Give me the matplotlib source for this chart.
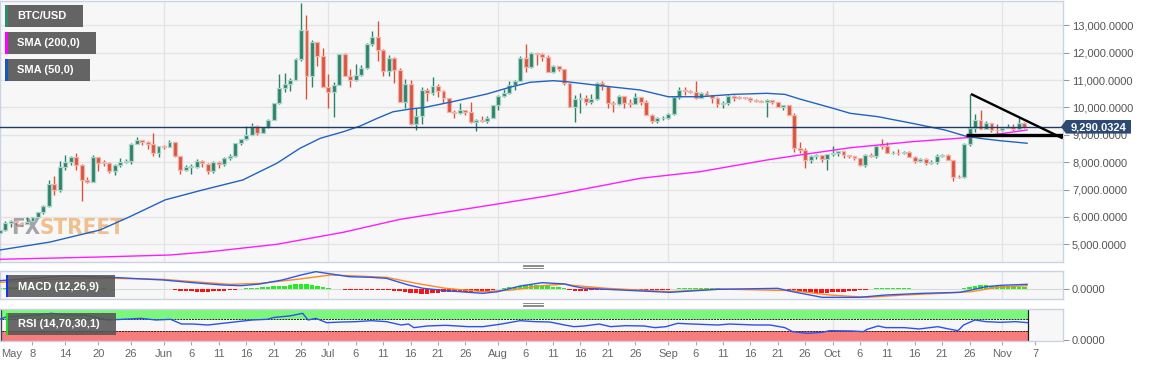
import matplotlib
matplotlib.use("Agg")
import matplotlib.pyplot as plt
from matplotlib.patches import Rectangle, Polygon
from matplotlib.lines import Line2D
from matplotlib import font_manager
from matplotlib.font_manager import FontProperties
import numpy as np
import datetime as dt

plt.rcParams['font.family'] = ['Liberation Sans', 'DejaVu Sans']

# ---------------- data ----------------
start_date = "2019-05-02"   # first daily candle (index 0)

opens = [5402,5505,5769,5831,5792,5746,5849,5982,6165,6380,
         7204,6971,7808,7989,8195,7887,7342,7268,8197,7978,
         7956,7677,7882,7992,8055,8674,8803,8719,8662,8320,
         8574,8565,8742,8211,7704,7820,7827,8037,7950,7692,
         8004,7925,8146,8231,8690,8841,8989,9335,9079,9273,
         9525,10176,10697,10854,11008,11770,12830,11160,12380,11880,
         10740,10580,10818,11960,11160,11015,11200,11440,12306,12555,
         12093,11340,11800,11370,10210,10850,9393,9700,10640,10530,
         10767,10600,10333,9843,9800,9900,9850,9480,9553,9519,
         9607,10088,10412,10518,10818,10970,11794,11494,11977,11950,
         11850,11283,11527,11392,10880,10025,10300,10345,10210,10300,
         10900,10780,10150,10131,10400,10160,10139,10371,10186,9723,
         9503,9598,9631,9770,10380,10620,10594,10576,10340,10530,
         10441,10335,10130,10178,10415,10361,10358,10348,10277,10241,
         10198,10266,10182,10020,10070,9711,8528,8460,8078,8230,
         8246,8104,8290,8343,8393,8260,8206,8152,7880,8245,
         8229,8596,8586,8322,8337,8321,8375,8205,8048,8104,
         7973,7989,8222,8244,8078,7468,7440,8663,9236,9540,
         9220,9430,9175,9160,9255,9300,9210,9420]
closes = [5505,5768,5831,5796,5747,5830,5982,6175,6379,7205,
          6972,7815,7994,8205,7885,7344,7271,8198,7978,7963,
          7680,7882,7987,8053,8673,8806,8720,8659,8319,8575,
          8564,8743,8209,7708,7824,7822,8044,7954,7688,8000,
          7928,8146,8231,8694,8838,8994,9320,9082,9274,9527,
          10145,10702,10855,11011,11770,12830,11160,12380,11880,10740,
          10580,10818,11950,11160,11015,11200,11440,12306,12555,12093,
          11340,11800,11370,10210,10850,9393,9700,10640,10530,10767,
          10600,10333,9843,9800,9900,9850,9480,9553,9519,9607,
          10088,10412,10518,10818,10970,11794,11494,11977,11950,11850,
          11283,11527,11392,10880,10025,10300,10345,10210,10300,10900,
          10780,10150,10131,10400,10160,10139,10371,10186,9723,9503,
          9598,9631,9770,10380,10620,10594,10576,10340,10530,10441,
          10335,10130,10178,10415,10361,10358,10348,10277,10241,10198,
          10266,10182,10020,10070,9711,8528,8460,8078,8230,8246,
          8104,8290,8343,8393,8260,8206,8152,7880,8245,8229,
          8596,8586,8322,8337,8321,8375,8205,8048,8104,7973,
          7989,8222,8244,8078,7468,7440,8663,9236,9540,9220,
          9430,9175,9160,9255,9300,9210,9420,9290]
highs = [5522,5866,5887,5834,5803,5989,5990,6183,6435,7333,
         7504,8047,8268,8217,8321,7929,7447,8262,8201,8062,
         7998,7944,8141,8118,8688,8907,8807,8756,9074,8587,
         8626,8809,8744,8211,7902,7937,8126,8077,7976,8032,
         8026,8197,8311,8711,8859,9336,9416,9348,9300,9594,
         10145,11220,11246,11066,11791,13830,13370,12460,12400,12180,
         11206,10912,11968,12006,11396,11600,11542,12346,12779,13170,
         12145,11905,11842,11451,11053,10997,9963,10737,10717,11100,
         10842,10652,10347,9909,10165,9917,10200,9576,9682,9702,
         10090,10447,10658,10947,11009,11895,12330,12037,11979,11970,
         11916,11540,11528,11420,10890,10437,10524,10453,10487,10916,
         10947,10799,10233,10442,10418,10305,10512,10381,10279,9757,
         9656,9673,9797,10397,10737,10763,10627,10950,10559,10596,
         10450,10394,10216,10442,10441,10422,10387,10387,10297,10276,
         10296,10286,10188,10074,10074,9804,8745,8516,8272,8286,
         8262,8314,8590,8393,8414,8260,8216,8161,8309,8333,
         8628,8835,8722,8415,8471,8390,8411,8217,8135,8138,
         8083,8282,8297,8297,8092,7533,8692,10490,9750,9905,
         9516,9440,9383,9276,9377,9380,9600,9457]
lows = [5394,5490,5645,5708,5654,5741,5795,5982,6111,6376,
        6815,6898,7696,7899,7730,6580,7252,7268,7679,7843,
        7616,7533,7824,7965,7925,8669,8635,8483,8221,8173,
        8482,8561,8204,7564,7669,7571,7788,7838,7583,7587,
        7773,7863,8087,8183,8618,8815,8989,9005,9070,9232,
        9525,10107,10556,10610,11000,11700,10300,10745,11510,10740,
        9967,9660,10818,11160,10745,10982,11149,11393,12233,11711,
        11159,11139,10908,10200,9992,9350,9163,9377,10230,10451,
        10390,10155,9840,9614,9774,9718,9412,9150,9473,9437,
        9598,9922,10371,10504,10620,10961,11291,11434,11556,11710,
        11283,11248,11321,10830,10025,9460,9795,10087,10119,10280,
        10619,9963,9831,10078,9982,10009,10126,10087,9717,9422,
        9428,9532,9583,9731,10309,10435,10516,10292,10339,10409,
        10145,10021,9981,10099,10227,10292,10313,10190,10200,10191,
        9650,10132,10001,9923,9711,8371,8325,7790,7966,8125,
        7991,7710,8233,8228,8146,8151,8071,7850,7834,8186,
        8169,8472,8316,8313,8277,8284,8183,7985,8001,7902,
        7945,7949,8196,8074,7300,7420,7420,8600,9113,9200,
        9200,9085,9029,9132,9250,9141,9191,9257]

last_price = 9290.0324

# moving averages (candle index, price)
sma50_idx = [0.07,9.2,18.3,23.8,30.2,36.6,44.4,50.6,54.8,58.5,62.7,65.8,68.9,71.8,74.9,77.6,
             82.7,88.9,93.1,96.8,101,103.5,109.6,116.9,122,127.8,133.8,140,143.3,146,152.1,
             155.2,160.3,166.5,172.5,176.2,178.9,182.5,187.5]
sma50_val = [4790,5080,5520,6010,6620,6960,7350,7960,8505,8870,9110,9320,9600,9840,9940,10000,
             10210,10490,10735,10918,10976,10940,10795,10636,10390,10390,10476,10515,10476,10307,9967,
             9785,9660,9420,9175,8955,8870,8785,8690]
sma200_idx = [0.07,18.3,31.1,38.4,50.6,62.7,73.1,88.9,101,116.9,127.8,140,146,155.2,166.5,178.9,187.5]
sma200_val = [4450,4534,4607,4727,4998,5436,5911,6408,6799,7409,7650,8078,8260,8525,8747,8930,9175]

# trendlines drawn on the chart
trend_idx = [177.26, 194.0]
trend_val = [10490, 8870]
support_idx = [176.3, 194.0]
support_val = [8990, 8990]

# MACD (12,26,9)
macd_idx = [0,12.2,20.4,29.9,35.3,40.7,44.1,47.5,51.6,55,57.7,59.7,63.8,67.8,70.6,74.6,77.3,81.4,
            88.2,90.9,95,99,103.1,104.5,106.4,110.8,122.3,131.1,142,144.7,150.1,156.9,161.7,168.4,
            175.2,177.3,180,182.7,187.5]
macd_val = [500,780,700,540,380,240,200,300,540,840,1040,940,740,700,640,240,40,-100,
            -260,-160,180,380,300,180,60,-20,-200,-20,40,-160,-500,-500,-360,-260,
            -200,-60,140,220,280]
signal_idx = [0,12.2,20.4,29.9,35.3,42.1,47.5,54.3,60.4,65.1,70.6,76,81.4,88.2,93.6,98.4,103.1,
              104.5,110.8,122.3,131.1,144.7,151.5,158.3,165.1,171.8,177.3,182,187.5]
signal_val = [400,620,640,580,440,280,340,580,840,780,700,340,40,-160,-60,180,300,
              220,40,-160,0,-100,-360,-500,-360,-260,-160,100,200]
macd_hist = [90,90,96,96,102,102,108,108,102,96,
             90,84,78,72,66,60,54,42,42,36,
             30,-24,-24,-24,-24,-24,-24,-24,-24,-24,
             -24,-24,-60,-90,-120,-138,-150,-156,-150,-138,
             -120,-102,-72,-42,12,36,60,90,108,132,
             156,180,210,252,288,330,300,258,210,150,
             90,30,-18,-36,-48,-48,-42,-36,-30,-30,
             -48,-60,-90,-132,-180,-228,-258,-300,-276,-240,
             -216,-198,-192,-180,-180,-168,-156,-138,-120,-90,
             -60,18,60,108,150,192,216,240,240,210,
             180,138,96,48,-60,-90,-102,-90,-72,-48,
             -36,-30,-30,-30,-30,-30,-30,-30,-30,-30,
             -30,-30,-30,-12,42,42,42,42,42,42,
             42,42,12,12,12,12,12,12,12,12,
             12,12,12,12,-30,-72,-120,-168,-198,-216,
             -222,-216,-198,-180,-150,-120,-90,-60,-30,12,
             48,60,66,66,60,54,42,18,18,18,
             18,18,18,18,18,18,60,150,210,228,
             216,204,192,180,168,150,138,120]

# RSI (14,70,30,1)
rsi_idx = [0,1,6.8,9.5,12.2,15.6,19.7,22.4,25.8,28.5,31.2,33.2,35.3,38,40.7,43.4,46.1,48.8,50.2,52.9,
           55.3,56.3,57.7,59.7,62.4,65.1,67.8,70.6,73.3,74.6,75.6,78,81.4,85.5,88.2,91.6,95,97.7,100.4,103.1,
           104.8,106.7,109.4,111.5,114.2,117.6,119.6,121.6,123.7,126.4,131.1,133.2,137.9,140.6,143.3,144.7,
           147.4,150.1,151.5,155.6,157.6,158.3,160.3,161.7,165.1,167.8,171.2,173.2,174.9,175.9,178,180,
           182.7,185.4,187.6]
rsi_val = [69.5,76.4,84.4,90.1,84.4,84.4,67.2,69.5,72.9,67.2,69.5,53.4,53.4,50,55.7,61.5,67.2,69.5,76.4,81,
           90.1,67.2,72.9,58,60.3,61.5,64.9,61.5,50,53.4,40.9,46.6,48.9,44.3,44.3,53.4,64.9,61.5,60.3,50,
           44.3,46.6,53.4,44.3,47.7,46.6,40.9,44.3,55.7,53.4,50,53.4,50,50,40.9,27.1,
           21.4,24.8,30.5,29.4,27.1,35.1,46.6,40.9,40.9,36.3,44.3,36.3,30.5,50,67.2,61.5,
           59.2,61.5,58]
rsi_upper, rsi_lower = 70, 30

price_ticks = [5000, 6000, 7000, 8000, 9000, 10000, 11000, 12000, 13000]
month_dates = ["2019-06-01", "2019-07-01", "2019-08-01", "2019-09-01", "2019-10-01", "2019-11-01"]
xtick_dates = ["2019-05-08","2019-05-14","2019-05-20","2019-05-26","2019-06-01","2019-06-06","2019-06-11",
               "2019-06-16","2019-06-21","2019-06-26","2019-07-01","2019-07-06","2019-07-11","2019-07-16",
               "2019-07-21","2019-07-26","2019-08-01","2019-08-06","2019-08-11","2019-08-16","2019-08-21",
               "2019-08-26","2019-09-01","2019-09-06","2019-09-11","2019-09-16","2019-09-21","2019-09-26",
               "2019-10-01","2019-10-06","2019-10-11","2019-10-16","2019-10-21","2019-10-26","2019-11-01",
               "2019-11-07"]
xtick_labels = ["8","14","20","26","Jun","6","11","16","21","26","Jul","6","11","16","21","26","Aug","6",
                "11","16","21","26","Sep","6","11","16","21","26","Oct","6","11","16","21","26","Nov","7"]

legend_labels = ["BTC/USD", "SMA (200,0)", "SMA (50,0)"]
legend_colors = ["#2e8b6e", "#ff00ff", "#1a56b8"]

# ---------------- helpers ----------------
d0 = dt.date.fromisoformat(start_date)
def day_index(s):
    return (dt.date.fromisoformat(s) - d0).days

W, H = 1153, 367
def fx(x): return x / W
def fy(y): return 1 - y / H

GREEN, RED = "#2e806a", "#d5553f"
GREEN_E, RED_E = "#a9d6c9", "#f1b4aa"
GRID = "#e4e4e4"
SPINE = "#cbd2e4"
BG = "#f7f7f7"
XLIM = (0.073, 194.05)

fig = plt.figure(figsize=(W / 100, H / 100), dpi=100)
fig.patch.set_facecolor("white")

ax = fig.add_axes([0, fy(262), 1063 / W, 261 / H])
ax_m = fig.add_axes([0, fy(299.3), 1063 / W, 28.3 / H])
ax_r = fig.add_axes([0, fy(341), 1063 / W, 32 / H])

month_pos = [day_index(s) for s in month_dates]
for a in (ax, ax_m, ax_r):
    a.set_facecolor(BG)
    a.set_xlim(*XLIM)
    for s in a.spines.values():
        s.set_color(SPINE)
        s.set_linewidth(1.0)
    for m in month_pos:
        a.axvline(m, color=GRID, lw=1.0, zorder=0.5)
    a.yaxis.tick_right()
    a.tick_params(axis="y", direction="out", length=4, width=0.8, color="#9a9a9a",
                  labelcolor="#555555", labelsize=8, pad=2.5)

# ---------------- main panel ----------------
o = np.array(opens, float); c = np.array(closes, float)
h = np.array(highs, float); l = np.array(lows, float)
idx = np.arange(len(c))
up = c >= o
ax.set_ylim(4351, 13888)
for p in price_ticks:
    ax.axhline(p, color=GRID, lw=1.0, zorder=0.5)
ax.set_yticks(price_ticks)
ax.set_yticklabels([f"{p:,.4f}" for p in price_ticks])
ax.set_xticks([])

# watermark (condensed bold face if one is installed)
wm_prop = None
for f in font_manager.fontManager.ttflist:
    nm = f.name
    cond = ("Narrow" in nm or "Condensed" in nm or
            str(f.stretch) in ("condensed", "semi-condensed", "extra-condensed", "ultra-condensed"))
    bold = str(f.weight) in ("bold", "700", "800", "900", "heavy", "black", "semibold", "600", "demibold")
    if cond and bold:
        wm_prop = FontProperties(fname=f.fname, size=16)
        break
if wm_prop is None:
    wm_prop = FontProperties(family="Liberation Sans", weight="bold", size=15)
wm_y = 1 - (228 - 1) / 261
ax.text(40 / 1063, wm_y, "FX", transform=ax.transAxes, ha="right", va="center",
        fontproperties=wm_prop, color="#a3a3a8", zorder=1)
ax.text(40 / 1063, wm_y, "STREET", transform=ax.transAxes, ha="left", va="center",
        fontproperties=wm_prop, color="#efc08e", zorder=1)

ax.vlines(idx, l, h, colors=np.where(up, GREEN, RED), lw=1.0, zorder=2)
body_lo = np.minimum(o, c)
body_h = np.maximum(np.abs(c - o), 30)
ax.bar(idx, body_h, bottom=body_lo, width=0.72, color=np.where(up, GREEN, RED),
       edgecolor=np.where(up, GREEN_E, RED_E), linewidth=0.9, zorder=3)

ax.plot(sma200_idx, sma200_val, color="#ff1cff", lw=1.0, zorder=4)
ax.plot(sma50_idx, sma50_val, color="#2163c0", lw=1.0, zorder=4)
ax.axhline(last_price, color="#1f3a66", lw=1.0, zorder=5)
ax.plot(trend_idx, trend_val, color="black", lw=1.7, zorder=6, solid_capstyle="butt")
ax.plot(support_idx, support_val, color="black", lw=2.4, zorder=6, solid_capstyle="butt")

# ---------------- MACD panel ----------------
ax_m.set_ylim(-618, 1080)
ax_m.axhline(0, color="#d8d8d8", lw=0.8, zorder=0.6)
hist = np.array(macd_hist, float)
ax_m.bar(np.arange(len(hist)), hist, width=0.8, color=np.where(hist >= 0, "#22ee22", "#ff1111"),
         linewidth=0, zorder=2)
ax_m.plot(signal_idx, signal_val, color="#ff8a1c", lw=1.0, zorder=3)
ax_m.plot(macd_idx, macd_val, color="#2f55ee", lw=1.0, zorder=3)
ax_m.set_xticks([])
ax_m.set_yticks([0])
ax_m.set_yticklabels(["0.0000"])

# ---------------- RSI panel ----------------
ax_r.set_ylim(-5, 105)
end_i = len(c) - 1 + 0.7
ax_r.add_patch(Rectangle((-1, rsi_upper), end_i + 1, 40, facecolor="#7bf87b", edgecolor="none", zorder=1))
ax_r.add_patch(Rectangle((-1, -10), end_i + 1, rsi_lower + 10, facecolor="#f87c7c", edgecolor="none", zorder=1))
ax_r.hlines([rsi_upper, rsi_lower], -1, end_i, colors="#222222", lw=0.7, linestyles=(0, (2, 1)), zorder=2)
ax_r.vlines([0.3, end_i], -5, 105, colors="#222222", lw=0.9, zorder=2)
ax_r.plot(rsi_idx, rsi_val, color="#2a50f0", lw=1.0, zorder=3)
ax_r.set_yticks([0])
ax_r.set_yticklabels(["0.0000"])
ax_r.set_xticks([day_index(s) for s in xtick_dates])
ax_r.set_xticklabels(xtick_labels)
ax_r.tick_params(axis="x", direction="out", length=3, width=0.8, color="#aaaaaa",
                 labelcolor="#666666", labelsize=8, pad=3)
fig.text(fx(1), fy(354), "May", ha="left", va="center", fontsize=8, color="#666666")

# ---------------- overlay boxes ----------------
def box(x0, y0, x1, y1, color, alpha=1.0, z=20):
    fig.add_artist(Rectangle((fx(x0), fy(y1)), (x1 - x0) / W, (y1 - y0) / H,
                             transform=fig.transFigure, facecolor=color, edgecolor="none",
                             alpha=alpha, zorder=z))

legend_boxes = [(5, 5, 83, 27), (5, 32, 96, 53.7), (5, 59, 90, 80.7)]
for (x0, y0, x1, y1), lab, col in zip(legend_boxes, legend_labels, legend_colors):
    box(x0, y0, x1, y1, "#5f5f5f", 0.97)
    box(x0, y0, x0 + 2.5, y1, col, 1.0, 21)
    fig.text(fx(17), fy((y0 + y1) / 2), lab, ha="left", va="center", fontsize=8,
             fontweight="bold", color="white", zorder=22)

box(5.6, 275, 115, 296.7, "#555555", 0.88)
box(5.6, 275, 8.2, 296.7, "#1133ee", 1.0, 21)
fig.text(fx(17.5), fy(286.5), "MACD (12,26,9)", ha="left", va="center", fontsize=8,
         fontweight="bold", color="white", zorder=22)
box(5.6, 312.7, 116, 334.7, "#555555", 0.88)
box(5.6, 312.7, 8.2, 334.7, "#22dd22", 1.0, 21)
fig.text(fx(17.5), fy(324.2), "RSI (14,70,30,1)", ha="left", va="center", fontsize=8,
         fontweight="bold", color="white", zorder=22)

# panel handles
for yc in (266.2, 304.5):
    for dy in (-1.5, 0, 1.5):
        fig.add_artist(Line2D([fx(523), fx(543)], [fy(yc + dy), fy(yc + dy)],
                              transform=fig.transFigure, color="#777777", lw=0.6, zorder=20))

# last price label
pts = [(1061, 126.8), (1066, 120), (1131, 120), (1131, 133.6), (1066, 133.6)]
fig.add_artist(Polygon([(fx(x), fy(y)) for x, y in pts], closed=True, transform=fig.transFigure,
                       facecolor="#2c4a72", edgecolor="none", zorder=20))
fig.text(fx(1099), fy(127), f"{last_price:,.4f}", ha="center", va="center", fontsize=8,
         fontweight="bold", color="white", zorder=22)

fig.savefig("out.png", dpi=100, facecolor="white")
